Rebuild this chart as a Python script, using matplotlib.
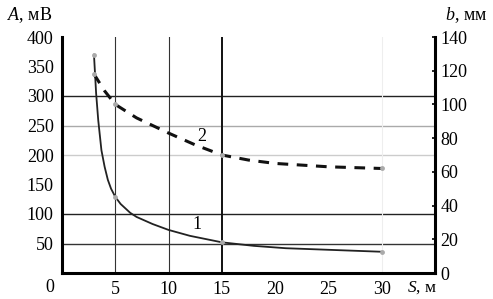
import numpy as np
import matplotlib
matplotlib.use('Agg')
import matplotlib.pyplot as plt

plt.rcParams['font.family'] = ['Liberation Serif', 'DejaVu Serif']
plt.rcParams['mathtext.fontset'] = 'custom'
plt.rcParams['mathtext.rm'] = 'Liberation Serif'
plt.rcParams['mathtext.it'] = 'Liberation Serif:italic'

# curve 1: A(S), left axis
s1_line = [3, 3.2, 3.4, 3.7, 4.0, 4.3, 4.6, 5, 5.5, 6.4, 7, 8.5, 10, 12, 15, 18, 21, 24, 30]
a1_line = [370, 305, 259, 208, 180, 158, 143, 129, 117, 102, 95, 83, 73, 63, 52, 46, 42, 40, 36]
s1_pts = [3, 5, 15, 30]
a1_pts = [370, 129, 52, 36]

# curve 2: b(S), right axis
s2_line = [3, 4, 5, 7, 10, 12.5, 15, 17.5, 20, 25, 30]
b2_line = [118, 108, 100, 92, 83, 76, 70, 67, 65, 63, 62]
s2_pts = [3, 5, 15, 30]
b2_pts = [118, 100, 70, 62]

x_ticks = [5, 10, 15, 20, 25, 30]
left_ticks = [50, 100, 150, 200, 250, 300, 350, 400]
right_ticks = [0, 20, 40, 60, 80, 100, 120, 140]

fig = plt.figure(figsize=(4.93, 2.99), dpi=100)
ax = fig.add_axes([62/493, 26/299, (435-62)/493, (273-37)/299])
ax2 = ax.twinx()

ax.set_xlim(0, 35)
ax.set_ylim(0, 400)
ax2.set_ylim(0, 140)

# grid
for y, c, w in [(300, '#222222', 1.0), (250, '#aaaaaa', 1.0), (200, '#cccccc', 1.0),
                (100, '#222222', 1.0), (50, '#333333', 1.0)]:
    ax.axhline(y, color=c, lw=w, zorder=1)
for x, c, w in [(5, '#333333', 0.8), (10, '#333333', 0.8), (15, '#111111', 1.4), (30, '#eeeeee', 0.8)]:
    ax.axvline(x, color=c, lw=w, zorder=1)

ax.plot(s1_line, a1_line, color='#222222', lw=1.3, zorder=3)
ax.plot(s1_pts, a1_pts, 'o', color='#aaaaaa', ms=3.5, mec='none', zorder=4)
ax2.plot(s2_line, b2_line, color='#111111', lw=2.2, dashes=(3.5, 2.8), zorder=3)
ax2.plot(s2_pts, b2_pts, 'o', color='#aaaaaa', ms=3.5, mec='none', zorder=4)

ax.text(12.7, 83, '1', fontsize=13, ha='center', va='center')
ax.text(13.1, 232, '2', fontsize=13, ha='center', va='center')

for a in (ax, ax2):
    a.spines['top'].set_visible(False)
ax.spines['left'].set_linewidth(2.2)
ax.spines['bottom'].set_linewidth(2.2)
ax2.spines['right'].set_linewidth(2.2)
ax2.spines['left'].set_visible(False)
ax2.spines['bottom'].set_visible(False)

ax.set_xticks(x_ticks)
ax.set_xticklabels([str(v) for v in x_ticks], fontsize=13)
ax.set_yticks(left_ticks)
ax.set_yticklabels([str(v) for v in left_ticks], fontsize=13)
ax.tick_params(axis='both', length=0, pad=6)
ax2.set_yticks(right_ticks)
ax2.set_yticklabels([str(v) for v in right_ticks], fontsize=13)
ax2.tick_params(axis='y', direction='in', length=2, width=1.2, pad=4)

ax.text(-0.02, -0.06, '0', transform=ax.transAxes, fontsize=13, ha='right', va='center')
ax.text(33.8, -0.062, r'$S$, м', transform=ax.get_xaxis_transform(), fontsize=12.5, ha='center', va='center')
fig.text(30/493, 1 - 15/299, r'$A$, мВ', fontsize=13, ha='center', va='center')
fig.text(466/493, 1 - 15/299, r'$b$, мм', fontsize=13, ha='center', va='center')

fig.savefig('out.png', dpi=100)
